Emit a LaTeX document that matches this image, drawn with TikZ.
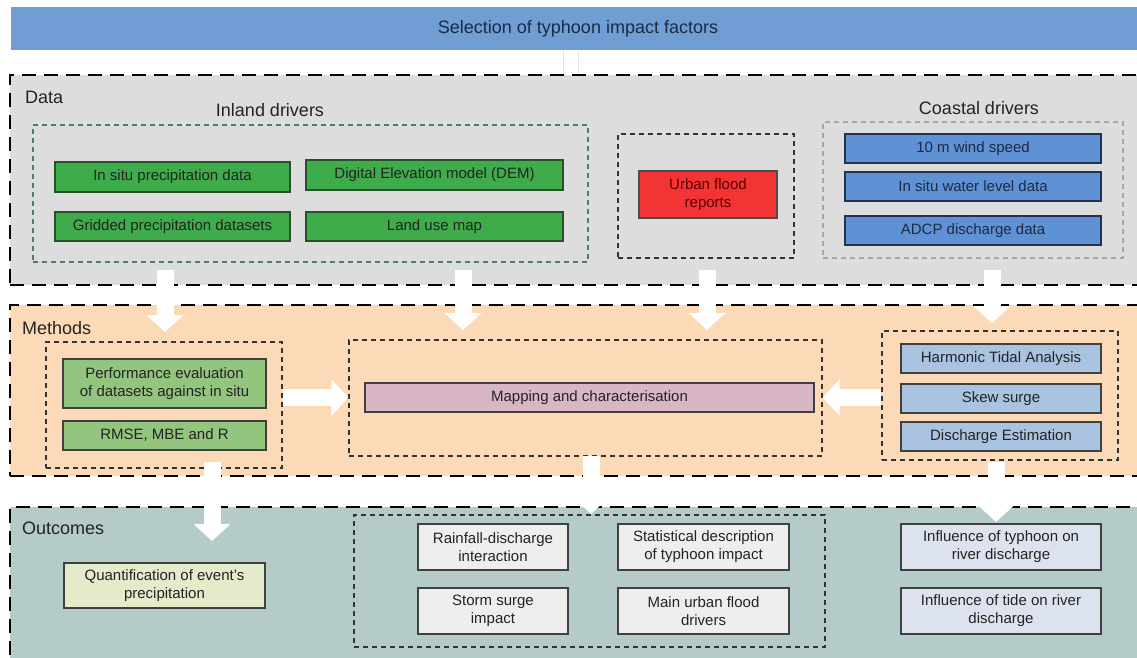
\documentclass[tikz,border=0pt]{standalone}
\usepackage{fontspec}
\setmainfont{Liberation Sans}
\usetikzlibrary{arrows.meta}
\definecolor{titleblue}{RGB}{112,157,211}
\definecolor{titletext}{RGB}{28,42,70}
\definecolor{datafill}{RGB}{221,221,221}
\definecolor{methfill}{RGB}{252,218,183}
\definecolor{outfill}{RGB}{180,203,201}
\definecolor{greenfill}{RGB}{62,172,74}
\definecolor{greenedge}{RGB}{40,80,42}
\definecolor{redfill}{RGB}{242,52,52}
\definecolor{redtext}{RGB}{90,0,0}
\definecolor{bluefill}{RGB}{94,146,213}
\definecolor{blueedge}{RGB}{35,50,80}
\definecolor{lgreenfill}{RGB}{148,197,126}
\definecolor{pinkfill}{RGB}{217,182,197}
\definecolor{lbluefill}{RGB}{169,195,224}
\definecolor{yellowfill}{RGB}{227,235,203}
\definecolor{grayfill}{RGB}{238,238,238}
\definecolor{bluegrayfill}{RGB}{221,227,238}
\definecolor{inlanddash}{RGB}{80,125,100}
\definecolor{coastdash}{RGB}{165,165,185}
\definecolor{boxtext}{RGB}{35,35,35}
\newcommand\bxf{\fontsize{15}{18}\selectfont}
\newcommand\lbf{\fontsize{18}{21}\selectfont}
\tikzset{
  bigbox/.style={fill=#1, draw=black, line width=2.6pt, dash pattern=on 14pt off 8pt, inner sep=0pt},
  grpbox/.style={draw=#1, line width=1.4pt, dash pattern=on 5pt off 4pt, inner sep=0pt},
  box/.style={fill=#1, draw=black!75, line width=1.2pt, inner sep=0pt, align=center, font=\bxf, text=boxtext},
  lbl/.style={font=\lbf, text=boxtext, inner sep=0pt},
  warrow/.style={draw=white, line width=17pt, -{Triangle[length=17pt,width=36pt]}},
}
\begin{document}
\begin{tikzpicture}[x=1pt,y=-1pt]
\useasboundingbox (0,0) rectangle (1137,658);
\clip (0,0) rectangle (1137,658);
\fill[white] (0,0) rectangle (1137,658);
% title
\node[fill=titleblue, minimum width=1134pt, minimum height=43pt, inner sep=0pt, font=\lbf, text=titletext] (title) at (578,28.5) {Selection of typhoon impact factors};
% big sections
\node[bigbox=datafill, minimum width=1140pt, minimum height=210pt] (data) at (580,180) {};
\node[bigbox=methfill, minimum width=1140pt, minimum height=171pt] (methods) at (580,390.5) {};
\node[bigbox=outfill, minimum width=1140pt, minimum height=160pt] (outcomes) at (580,587) {};
% faint connector title -> data
\coordinate (tc1) at (571,50);
\coordinate (tc2) at (571,74);
\draw[draw=black!10, line width=0.6pt, double=white, double distance=14pt] (tc1) -- (tc2);
% labels
\node[lbl, anchor=west] (ldata) at (25,97) {Data};
\node[lbl, anchor=west] (lmeth) at (22,328) {Methods};
\node[lbl, anchor=west] (lout) at (22,528) {Outcomes};
\node[lbl] (linland) at (270,110) {Inland drivers};
\node[lbl] (lcoast) at (979,108) {Coastal drivers};
% data groups
\node[grpbox=inlanddash, minimum width=555pt, minimum height=137pt] (ginland) at (310.5,193.5) {};
\node[grpbox=black!80, minimum width=176pt, minimum height=124pt] (gurban) at (706,196) {};
\node[grpbox=coastdash, minimum width=300pt, minimum height=136pt] (gcoast) at (973,190) {};
% data boxes
\node[box=greenfill, draw=greenedge, minimum width=235pt, minimum height=30pt] (insitu) at (172.5,177) {In situ precipitation data};
\node[box=greenfill, draw=greenedge, minimum width=257pt, minimum height=30pt] (dem) at (434.5,175) {Digital Elevation model (DEM)};
\node[box=greenfill, draw=greenedge, minimum width=235pt, minimum height=29pt] (gridded) at (172.5,226.5) {Gridded precipitation datasets};
\node[box=greenfill, draw=greenedge, minimum width=257pt, minimum height=29pt] (landuse) at (434.5,226.5) {Land use map};
\node[box=redfill, draw=black!70, text=redtext, minimum width=138pt, minimum height=47pt] (urban) at (708,194.5) {Urban flood\\reports};
\node[box=bluefill, draw=blueedge, text=titletext, minimum width=256pt, minimum height=29pt] (wind) at (973,148.5) {10 m wind speed};
\node[box=bluefill, draw=blueedge, text=titletext, minimum width=256pt, minimum height=29pt] (water) at (973,186.5) {In situ water level data};
\node[box=bluefill, draw=blueedge, text=titletext, minimum width=256pt, minimum height=29pt] (adcp) at (973,230.5) {ADCP discharge data};
% methods groups
\node[grpbox=black!80, minimum width=236pt, minimum height=126pt] (gleft) at (164,405) {};
\node[grpbox=black!80, minimum width=473pt, minimum height=116pt] (gcenter) at (585.5,398) {};
\node[grpbox=black!80, minimum width=236pt, minimum height=129pt] (gright) at (1000,395.5) {};
% methods boxes
\node[box=lgreenfill, minimum width=203pt, minimum height=49pt] (perf) at (164.5,383.5) {Performance evaluation\\of datasets against in situ};
\node[box=lgreenfill, minimum width=203pt, minimum height=29pt] (rmse) at (164.5,435.5) {RMSE, MBE and R};
\node[box=pinkfill, minimum width=449pt, minimum height=29pt] (mapping) at (589.5,397.5) {Mapping and characterisation};
\node[box=lbluefill, minimum width=200pt, minimum height=29pt] (harm) at (1001,358.5) {Harmonic Tidal Analysis};
\node[box=lbluefill, minimum width=200pt, minimum height=29pt] (skew) at (1001,398.5) {Skew surge};
\node[box=lbluefill, minimum width=200pt, minimum height=29pt] (disc) at (1001,436.5) {Discharge Estimation};
% outcomes
\node[grpbox=black!80, minimum width=471pt, minimum height=132pt] (gout) at (589.5,581) {};
\node[box=yellowfill, minimum width=201pt, minimum height=45pt] (quant) at (164.5,585.5) {Quantification of event's\\precipitation};
\node[box=grayfill, minimum width=150pt, minimum height=46pt] (rain) at (493,547) {Rainfall-discharge\\interaction};
\node[box=grayfill, minimum width=150pt, minimum height=46pt] (storm) at (493,611) {Storm surge\\impact};
\node[box=grayfill, minimum width=171pt, minimum height=46pt] (stat) at (703.5,547) {Statistical description\\of typhoon impact};
\node[box=grayfill, minimum width=171pt, minimum height=46pt] (mainurb) at (703.5,611) {Main urban flood\\drivers};
\node[box=bluegrayfill, minimum width=200pt, minimum height=46pt] (inftyph) at (1001,547) {Influence of typhoon on\\river discharge};
\node[box=bluegrayfill, minimum width=200pt, minimum height=46pt] (inftide) at (1001,611) {Influence of tide on river\\discharge};
% arrows
\coordinate (a1s) at (165,270); \coordinate (a1e) at (165,332);
\coordinate (a2s) at (463,270); \coordinate (a2e) at (463,330);
\coordinate (a3s) at (707,270); \coordinate (a3e) at (707,330);
\coordinate (a4s) at (992,270); \coordinate (a4e) at (992,323);
\draw[warrow] (a1s) -- (a1e);
\draw[warrow] (a2s) -- (a2e);
\draw[warrow] (a3s) -- (a3e);
\draw[warrow] (a4s) -- (a4e);
\draw[warrow] (gleft.east |- mapping) -- (gcenter.west |- mapping);
\draw[warrow] (gright.west |- mapping) -- (gcenter.east |- mapping);
\coordinate (a7s) at (212,462); \coordinate (a7e) at (212,541);
\coordinate (a8s) at (591,456); \coordinate (a8e) at (591,514);
\coordinate (a9s) at (996,462); \coordinate (a9e) at (996,522);
\draw[warrow] (a7s) -- (a7e);
\draw[warrow] (a8s) -- (a8e);
\draw[warrow] (a9s) -- (a9e);
\end{tikzpicture}
\end{document}
